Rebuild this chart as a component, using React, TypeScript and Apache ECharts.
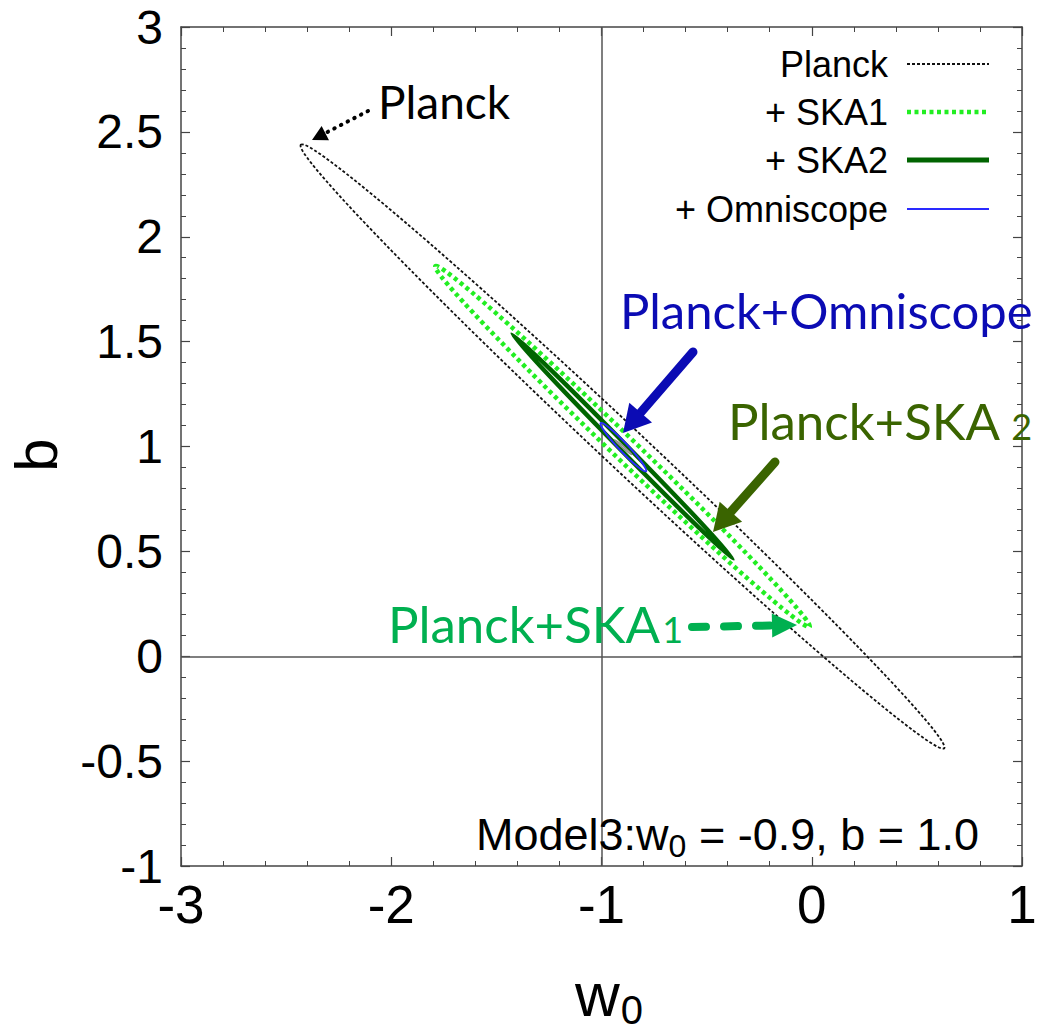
import React, { useEffect, useRef } from 'react';
import * as echarts from 'echarts';

// ---- data ----
const seriesNames = ['Planck', '+ SKA1', '+ SKA2', '+ Omniscope', 'Omniscope core'];
const centerW0 = [-0.9, -0.9, -0.9, -0.896, -0.897];
const centerB = [1.0, 1.0, 1.0, 0.997, 0.997];
const tipW0 = [0.63, -0.01, -0.375, -0.788, -0.857];
const tipB = [-0.44, 0.14, 0.465, 0.882, 0.962];
const halfWidth = [0.1, 0.055, 0.017, 0.021, 0.004];
const w0Range = [-3, 1];
const bRange = [-1, 3];
const referenceW0 = [-1];
const referenceB = [0];
const legendLabels = ['Planck', '+ SKA1', '+ SKA2', '+ Omniscope'];

// ---- styles ----
const W = 1041;
const H = 1033;
const GRID = { left: 181, right: 19, top: 27, bottom: 167 };
const SANS = 'Liberation Sans';
const CAL = 'Lato';
const ellipseStyles = [
  { stroke: '#111111', lineWidth: 1.8, lineDash: [3, 2] },
  { stroke: '#22ee22', lineWidth: 4.5, lineDash: [4, 3.5] },
  { stroke: '#006400', lineWidth: 4.5, lineDash: null },
  { stroke: '#2a2aff', lineWidth: 2, lineDash: null },
  { stroke: '#8a8a8a', lineWidth: 1.5, lineDash: null },
];

function measure(text: string, size: number, family: string): number {
  const ctx = document.createElement('canvas').getContext('2d');
  if (!ctx) return text.length * size * 0.55;
  ctx.font = `${size}px "${family}"`;
  return ctx.measureText(text).width;
}

function arrowEls(
  x1: number, y1: number, x2: number, y2: number,
  color: string, width: number, headLen: number, headHalf: number,
  dash: number[] | null
) {
  const ang = Math.atan2(y2 - y1, x2 - x1);
  const c = Math.cos(ang);
  const s = Math.sin(ang);
  const bx = x2 - headLen * c;
  const by = y2 - headLen * s;
  const px = -s;
  const py = c;
  return [
    {
      type: 'line', silent: true, z: 20,
      shape: { x1, y1, x2: bx + (dash ? 0 : 2 * c), y2: by + (dash ? 0 : 2 * s) },
      style: { stroke: color, lineWidth: width, lineCap: 'round', lineDash: dash || undefined },
    },
    {
      type: 'polygon', silent: true, z: 20,
      shape: { points: [[x2, y2], [bx + px * headHalf, by + py * headHalf], [bx - px * headHalf, by - py * headHalf]] },
      style: { fill: color },
    },
  ];
}

function textEl(text: string, x: number, y: number, size: number, family: string, color: string, align = 'left', rotation = 0) {
  return {
    type: 'text', silent: true, z: 20, x, y, rotation,
    style: {
      text, fill: color, fontSize: size, fontFamily: family,
      align, verticalAlign: 'middle',
    },
  };
}

function buildGraphics() {
  const g: any[] = [];
  // legend
  const legendY = [64, 112, 160, 209];
  legendLabels.forEach((lab, i) => {
    g.push(textEl(lab, 888, legendY[i], 36, SANS, '#000', 'right'));
    const st = ellipseStyles[i];
    g.push({
      type: 'line', silent: true, z: 20,
      shape: { x1: 907, y1: legendY[i], x2: 989, y2: legendY[i] },
      style: { stroke: st.stroke, lineWidth: i === 2 ? 5 : st.lineWidth, lineDash: st.lineDash || undefined },
    });
  });

  // axis names
  g.push(textEl('b', 36, 455, 60, SANS, '#000', 'center', Math.PI / 2));
  const wW = measure('w', 62, SANS);
  g.push(textEl('w', 575, 994, 62, SANS, '#000', 'left'));
  g.push(textEl('0', 575 + wW + 1, 1010, 40, SANS, '#000', 'left'));

  // Model text
  const mSize = 45;
  const part1 = 'Model3:w';
  const p1w = measure(part1, mSize, SANS);
  const subSize = 32;
  const subW = measure('0', subSize, SANS);
  g.push(textEl(part1, 476, 834, mSize, SANS, '#000'));
  g.push(textEl('0', 476 + p1w, 846, subSize, SANS, '#000'));
  g.push(textEl(' = -0.9, b = 1.0', 476 + p1w + subW, 834, mSize, SANS, '#000'));

  // annotations
  g.push(textEl('Planck', 378, 101, 46, CAL, '#000'));
  g.push(...arrowEls(368, 111, 312, 140, '#000', 4, 15, 8, [0.5, 7]));

  g.push(textEl('Planck+Omniscope', 620, 310, 49, CAL, '#0b0bb4'));
  g.push(...arrowEls(693, 352, 623, 433, '#0b0bb4', 9, 27, 15, null));

  const ska = 'Planck+SKA ';
  const skaW = measure(ska, 51, CAL);
  g.push(textEl(ska, 728, 420, 51, CAL, '#3a6400'));
  g.push(textEl('2', 728 + skaW - 2, 426, 36, CAL, '#3a6400'));
  g.push(...arrowEls(775, 462, 713, 532, '#3a6400', 9, 27, 15, null));

  const ska1 = 'Planck+SKA';
  const ska1W = measure(ska1, 51, CAL);
  g.push(textEl(ska1, 388, 623, 51, CAL, '#00b050'));
  g.push(textEl('1', 388 + ska1W + 2, 629, 36, CAL, '#00b050'));
  g.push(...arrowEls(692, 627, 797, 625, '#00b050', 8, 25, 12, [14, 18]));
  return g;
}

function axisCommon(isX: boolean, position: string, showLabel: boolean) {
  return {
    type: 'value',
    position,
    min: isX ? w0Range[0] : bRange[0],
    max: isX ? w0Range[1] : bRange[1],
    interval: isX ? 1 : 0.5,
    axisLine: { show: true, onZero: false, lineStyle: { color: '#444', width: 1.5 } },
    axisTick: { show: true, inside: true, length: 9, lineStyle: { color: '#444', width: 1.2 } },
    minorTick: { show: true, splitNumber: 5, length: 5, lineStyle: { color: '#444', width: 1 } },
    splitLine: { show: false },
    minorSplitLine: { show: false },
    axisLabel: {
      show: showLabel,
      fontSize: isX ? 53 : 48,
      fontFamily: SANS,
      color: '#000',
      margin: isX ? 12 : 18,
      showMinLabel: true,
      showMaxLabel: true,
    },
  };
}

function ellipseSeries(i: number) {
  const st = ellipseStyles[i];
  return {
    type: 'custom',
    name: seriesNames[i],
    xAxisIndex: 0,
    yAxisIndex: 0,
    z: 5 + i,
    silent: true,
    encode: { x: 0, y: 1 },
    data: [[centerW0[i], centerB[i], tipW0[i], tipB[i], halfWidth[i]]],
    renderItem: (params: any, api: any) => {
      const c = api.coord([api.value(0), api.value(1)]);
      const t = api.coord([api.value(2), api.value(3)]);
      const dx = t[0] - c[0];
      const dy = t[1] - c[1];
      const rx = Math.hypot(dx, dy);
      const unit = api.size([1, 1]);
      const ry = api.value(4) * (unit[0] + unit[1]) / 2;
      return {
        type: 'ellipse',
        x: c[0],
        y: c[1],
        rotation: -Math.atan2(dy, dx),
        shape: { cx: 0, cy: 0, rx, ry },
        style: {
          fill: 'none',
          stroke: st.stroke,
          lineWidth: st.lineWidth,
          lineDash: st.lineDash || undefined,
        },
      };
    },
  };
}

export default function App() {
  const ref = useRef<HTMLDivElement>(null);
  useEffect(() => {
    document.body.style.margin = '0';
    if (!ref.current) return;
    const chart = echarts.init(ref.current, null, { renderer: 'svg', width: W, height: H });
    const option: any = {
      animation: false,
      backgroundColor: '#ffffff',
      grid: { ...GRID, containLabel: false, outerBoundsMode: 'none' },
      xAxis: [axisCommon(true, 'bottom', true), axisCommon(true, 'top', false)],
      yAxis: [axisCommon(false, 'left', true), axisCommon(false, 'right', false)],
      series: [
        {
          type: 'line',
          name: 'reference lines',
          data: [],
          z: 1,
          silent: true,
          markLine: {
            silent: true,
            symbol: 'none',
            label: { show: false },
            lineStyle: { color: '#555', width: 1.5, type: 'solid' },
            data: [
              ...referenceW0.map((v) => ({ xAxis: v })),
              ...referenceB.map((v) => ({ yAxis: v })),
            ],
          },
        },
        ...seriesNames.map((_, i) => ellipseSeries(i)),
      ],
      graphic: buildGraphics(),
    };
    chart.setOption(option);
    return () => chart.dispose();
  }, []);
  return <div ref={ref} style={{ width: W, height: H, overflow: 'hidden' }} />;
}
